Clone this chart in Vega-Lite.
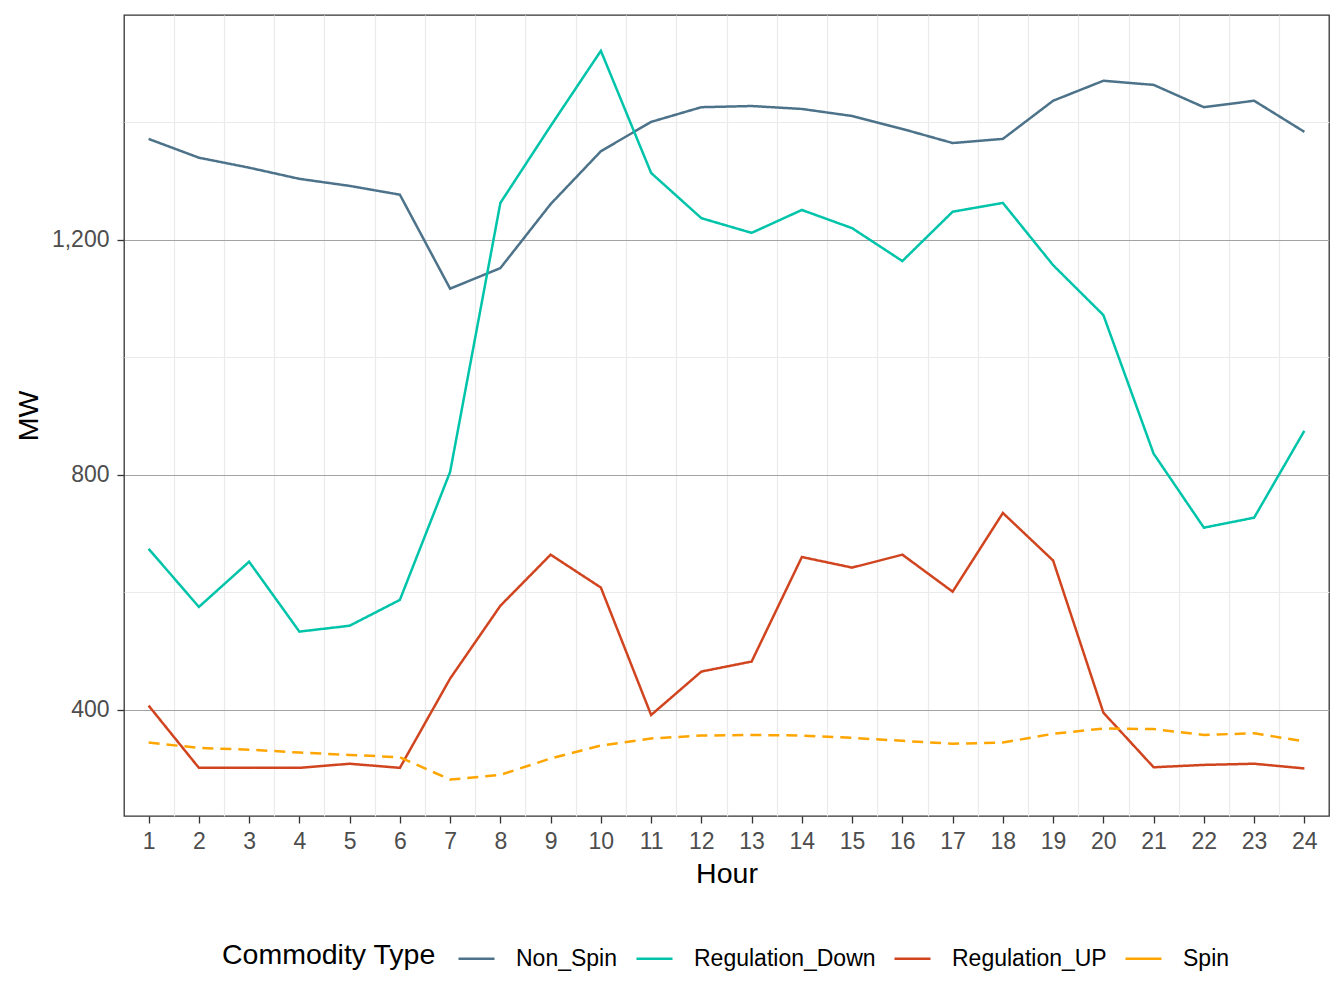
{
  "$schema": "https://vega.github.io/schema/vega-lite/v6.json",
  "width": 1205,
  "height": 801,
  "autosize": {"type": "none"},
  "padding": {"left": 124, "top": 15, "right": 15, "bottom": 192},
  "background": "white",
  "config": {
    "font": "Liberation Sans",
    "view": {"stroke": "#333333", "strokeWidth": 1.3},
    "axis": {
      "labelFont": "Liberation Sans",
      "labelFontSize": 23,
      "labelColor": "#4d4d4d",
      "titleFont": "Liberation Sans",
      "titleFontSize": 28.5,
      "titleFontWeight": "normal",
      "titleColor": "#000000",
      "tickColor": "#333333",
      "tickWidth": 1.3,
      "tickSize": 7,
      "domain": false,
      "labelPadding": 7
    },
    "legend": {
      "labelFont": "Liberation Sans",
      "titleFont": "Liberation Sans"
    }
  },
  "data": {
    "values": [
      {"hour": 1, "type": "Non_Spin", "mw": 1372},
      {"hour": 2, "type": "Non_Spin", "mw": 1340},
      {"hour": 3, "type": "Non_Spin", "mw": 1323},
      {"hour": 4, "type": "Non_Spin", "mw": 1304},
      {"hour": 5, "type": "Non_Spin", "mw": 1292},
      {"hour": 6, "type": "Non_Spin", "mw": 1277},
      {"hour": 7, "type": "Non_Spin", "mw": 1117},
      {"hour": 8, "type": "Non_Spin", "mw": 1152},
      {"hour": 9, "type": "Non_Spin", "mw": 1261},
      {"hour": 10, "type": "Non_Spin", "mw": 1351},
      {"hour": 11, "type": "Non_Spin", "mw": 1401},
      {"hour": 12, "type": "Non_Spin", "mw": 1426},
      {"hour": 13, "type": "Non_Spin", "mw": 1428},
      {"hour": 14, "type": "Non_Spin", "mw": 1423},
      {"hour": 15, "type": "Non_Spin", "mw": 1411},
      {"hour": 16, "type": "Non_Spin", "mw": 1389},
      {"hour": 17, "type": "Non_Spin", "mw": 1365},
      {"hour": 18, "type": "Non_Spin", "mw": 1372},
      {"hour": 19, "type": "Non_Spin", "mw": 1437},
      {"hour": 20, "type": "Non_Spin", "mw": 1471},
      {"hour": 21, "type": "Non_Spin", "mw": 1464},
      {"hour": 22, "type": "Non_Spin", "mw": 1426},
      {"hour": 23, "type": "Non_Spin", "mw": 1437},
      {"hour": 24, "type": "Non_Spin", "mw": 1384},
      {"hour": 1, "type": "Regulation_Down", "mw": 674},
      {"hour": 2, "type": "Regulation_Down", "mw": 575},
      {"hour": 3, "type": "Regulation_Down", "mw": 652},
      {"hour": 4, "type": "Regulation_Down", "mw": 533},
      {"hour": 5, "type": "Regulation_Down", "mw": 543},
      {"hour": 6, "type": "Regulation_Down", "mw": 587},
      {"hour": 7, "type": "Regulation_Down", "mw": 805},
      {"hour": 8, "type": "Regulation_Down", "mw": 1263},
      {"hour": 9, "type": "Regulation_Down", "mw": 1394},
      {"hour": 10, "type": "Regulation_Down", "mw": 1522},
      {"hour": 11, "type": "Regulation_Down", "mw": 1314},
      {"hour": 12, "type": "Regulation_Down", "mw": 1237},
      {"hour": 13, "type": "Regulation_Down", "mw": 1212},
      {"hour": 14, "type": "Regulation_Down", "mw": 1251},
      {"hour": 15, "type": "Regulation_Down", "mw": 1220},
      {"hour": 16, "type": "Regulation_Down", "mw": 1164},
      {"hour": 17, "type": "Regulation_Down", "mw": 1248},
      {"hour": 18, "type": "Regulation_Down", "mw": 1263},
      {"hour": 19, "type": "Regulation_Down", "mw": 1157},
      {"hour": 20, "type": "Regulation_Down", "mw": 1072},
      {"hour": 21, "type": "Regulation_Down", "mw": 836},
      {"hour": 22, "type": "Regulation_Down", "mw": 710},
      {"hour": 23, "type": "Regulation_Down", "mw": 727},
      {"hour": 24, "type": "Regulation_Down", "mw": 875},
      {"hour": 1, "type": "Regulation_UP", "mw": 407},
      {"hour": 2, "type": "Regulation_UP", "mw": 301},
      {"hour": 3, "type": "Regulation_UP", "mw": 301},
      {"hour": 4, "type": "Regulation_UP", "mw": 301},
      {"hour": 5, "type": "Regulation_UP", "mw": 308},
      {"hour": 6, "type": "Regulation_UP", "mw": 301},
      {"hour": 7, "type": "Regulation_UP", "mw": 453},
      {"hour": 8, "type": "Regulation_UP", "mw": 577},
      {"hour": 9, "type": "Regulation_UP", "mw": 664},
      {"hour": 10, "type": "Regulation_UP", "mw": 608},
      {"hour": 11, "type": "Regulation_UP", "mw": 391},
      {"hour": 12, "type": "Regulation_UP", "mw": 465},
      {"hour": 13, "type": "Regulation_UP", "mw": 482},
      {"hour": 14, "type": "Regulation_UP", "mw": 660},
      {"hour": 15, "type": "Regulation_UP", "mw": 642},
      {"hour": 16, "type": "Regulation_UP", "mw": 664},
      {"hour": 17, "type": "Regulation_UP", "mw": 601},
      {"hour": 18, "type": "Regulation_UP", "mw": 735},
      {"hour": 19, "type": "Regulation_UP", "mw": 654},
      {"hour": 20, "type": "Regulation_UP", "mw": 395},
      {"hour": 21, "type": "Regulation_UP", "mw": 302},
      {"hour": 22, "type": "Regulation_UP", "mw": 306},
      {"hour": 23, "type": "Regulation_UP", "mw": 308},
      {"hour": 24, "type": "Regulation_UP", "mw": 300},
      {"hour": 1, "type": "Spin", "mw": 344},
      {"hour": 2, "type": "Spin", "mw": 335},
      {"hour": 3, "type": "Spin", "mw": 332},
      {"hour": 4, "type": "Spin", "mw": 327},
      {"hour": 5, "type": "Spin", "mw": 323},
      {"hour": 6, "type": "Spin", "mw": 319},
      {"hour": 7, "type": "Spin", "mw": 281},
      {"hour": 8, "type": "Spin", "mw": 289},
      {"hour": 9, "type": "Spin", "mw": 317},
      {"hour": 10, "type": "Spin", "mw": 339},
      {"hour": 11, "type": "Spin", "mw": 351},
      {"hour": 12, "type": "Spin", "mw": 356},
      {"hour": 13, "type": "Spin", "mw": 357},
      {"hour": 14, "type": "Spin", "mw": 356},
      {"hour": 15, "type": "Spin", "mw": 352},
      {"hour": 16, "type": "Spin", "mw": 347},
      {"hour": 17, "type": "Spin", "mw": 342},
      {"hour": 18, "type": "Spin", "mw": 344},
      {"hour": 19, "type": "Spin", "mw": 359},
      {"hour": 20, "type": "Spin", "mw": 368},
      {"hour": 21, "type": "Spin", "mw": 367},
      {"hour": 22, "type": "Spin", "mw": 357},
      {"hour": 23, "type": "Spin", "mw": 360},
      {"hour": 24, "type": "Spin", "mw": 346}
    ]
  },
  "layer": [
    {
      "mark": {"type": "line", "opacity": 0},
      "encoding": {
        "x": {
          "field": "hour",
          "type": "quantitative",
          "scale": {"domain": [0.51, 24.49], "nice": false, "zero": false},
          "axis": {
            "orient": "bottom",
            "values": [1.5, 2.5, 3.5, 4.5, 5.5, 6.5, 7.5, 8.5, 9.5, 10.5, 11.5, 12.5, 13.5, 14.5, 15.5, 16.5, 17.5, 18.5, 19.5, 20.5, 21.5, 22.5, 23.5],
            "grid": true,
            "gridColor": "#ebebeb",
            "gridWidth": 1.2,
            "labels": false,
            "ticks": false,
            "domain": false,
            "title": null
          }
        },
        "y": {
          "field": "mw",
          "type": "quantitative",
          "scale": {"domain": [219, 1583], "nice": false, "zero": false},
          "axis": {
            "orient": "left",
            "values": [600, 1000, 1400],
            "grid": true,
            "gridColor": "#ebebeb",
            "gridWidth": 1.2,
            "labels": false,
            "ticks": false,
            "domain": false,
            "title": null
          }
        },
        "detail": {"field": "type", "type": "nominal"}
      }
    },
    {
      "mark": {"type": "line", "strokeWidth": 2.5},
      "encoding": {
        "x": {
          "field": "hour",
          "type": "quantitative",
          "axis": {
            "orient": "bottom",
            "values": [1, 2, 3, 4, 5, 6, 7, 8, 9, 10, 11, 12, 13, 14, 15, 16, 17, 18, 19, 20, 21, 22, 23, 24],
            "format": "d",
            "grid": false,
            "title": "Hour",
            "titlePadding": 6
          }
        },
        "y": {
          "field": "mw",
          "type": "quantitative",
          "axis": {
            "orient": "left",
            "values": [400, 800, 1200],
            "format": ",d",
            "grid": true,
            "gridColor": "#a3a3a3",
            "gridWidth": 1.2,
            "labelPadding": 8,
            "title": "MW",
            "titlePadding": 8
          }
        },
        "color": {
          "field": "type",
          "type": "nominal",
          "scale": {
            "domain": ["Non_Spin", "Regulation_Down", "Regulation_UP", "Spin"],
            "range": ["#4d738a", "#00c4aa", "#d0451f", "#ffa500"]
          },
          "legend": {
            "title": "Commodity Type",
            "orient": "none",
            "legendX": 98,
            "legendY": 924,
            "direction": "horizontal",
            "titleOrient": "left",
            "titleFontSize": 28.5,
            "titleFontWeight": "normal",
            "titleColor": "#000000",
            "titlePadding": 21,
            "titleAnchor": "middle",
            "titleBaseline": "middle",
            "titleLimit": 600,
            "labelFontSize": 23,
            "labelColor": "#000000",
            "labelLimit": 600,
            "labelOffset": 20,
            "columnPadding": 13,
            "symbolType": "stroke",
            "symbolSize": 1296,
            "symbolStrokeWidth": 2.5
          }
        },
        "strokeDash": {
          "condition": {"test": "datum.type === 'Spin'", "value": [11, 7]},
          "value": [1, 0]
        }
      }
    }
  ],
  "resolve": {"axis": {"x": "independent", "y": "independent"}}
}
